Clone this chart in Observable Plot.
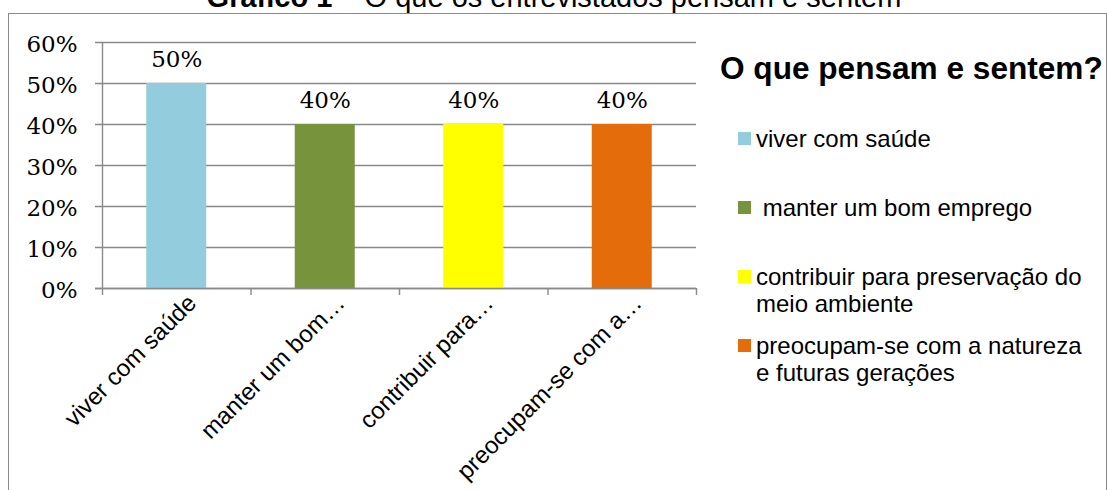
<!DOCTYPE html>
<html>
<head>
<meta charset="utf-8">
<script src="https://cdn.jsdelivr.net/npm/d3@7"></script>
<script src="https://cdn.jsdelivr.net/npm/@observablehq/plot@0.6"></script>
<style>
  body { margin: 0; background: #fff; }
  #wrap { position: relative; width: 1108px; height: 490px; overflow: hidden; background: #fff; }
  #title { position: absolute; left: 0; top: -17.5px; width: 1108px; text-align: center;
           font-family: "Liberation Sans", Arial, sans-serif; font-size: 29px; line-height: 1; color: #000; white-space: nowrap; }
  #frame { position: absolute; left: 8px; top: 13px; width: 1099px; height: 500px; border: 1px solid #8a8a8a; box-sizing: border-box; }
  #chart { position: absolute; left: 0; top: 0; }
  #legtitle { position: absolute; left: 720px; top: 53.3px; font-family: "Liberation Sans", Arial, sans-serif;
              font-weight: bold; font-size: 31.6px; line-height: 1; color: #000; white-space: nowrap; }
  .sw { position: absolute; width: 13px; height: 13px; }
  .lt { position: absolute; left: 756px; width: 338px; font-family: "Liberation Sans", Arial, sans-serif;
        font-size: 24px; line-height: 27px; color: #000; white-space: pre-wrap; }
</style>
</head>
<body>
<div id="wrap">
  <div id="title"><b>Gráfico 1</b> – O que os entrevistados pensam e sentem</div>
  <div id="frame"></div>
  <div id="chart"></div>
  <div id="legtitle">O que pensam e sentem?</div>
</div>
<script>
const categories = ["viver com saúde", "manter um bom emprego", "contribuir para preservação do meio ambiente", "preocupam-se com a natureza e futuras gerações"];
const tickLabels = ["viver com saúde", "manter um bom…", "contribuir para…", "preocupam-se com a…"];
const legendLabels = ["viver com saúde", " manter um bom emprego", "contribuir para preservação do meio ambiente", "preocupam-se com a natureza e futuras gerações"];
const values = [0.5, 0.4, 0.4, 0.4];
const colors = ["#93CDDD", "#77933C", "#FFFF00", "#E46C0A"];
const yTicks = [0, 0.1, 0.2, 0.3, 0.4, 0.5, 0.6];
const xBounds = [0, 1, 2, 3, 4];

const data = categories.map((c, i) => ({i, category: c, label: tickLabels[i], value: values[i], color: colors[i]}));
const pct = d3.format(".0%");
const serif = "DejaVu Serif, serif";
const sans = "Liberation Sans, Arial, sans-serif";
const grid = "#898989";

const chart = Plot.plot({
  width: 1108,
  height: 490,
  marginLeft: 102,
  marginRight: 412,
  marginTop: 42,
  marginBottom: 202,
  style: {background: "transparent", overflow: "visible"},
  x: {type: "linear", domain: [0, 4], axis: null},
  y: {domain: [0, 0.6], axis: null},
  color: {type: "identity"},
  marks: [
    Plot.ruleY(yTicks, {stroke: grid, strokeWidth: 1.4, insetLeft: -7}),
    Plot.rectY(data, {x1: "i", x2: d => d.i + 1, y: "value", fill: "color", insetLeft: 44.25, insetRight: 44.25}),
    Plot.ruleY([0], {stroke: grid, strokeWidth: 1.4, insetLeft: -7}),
    Plot.ruleX(xBounds, {x: d => d, y1: d => d === 0 ? 0.6 : 0, y2: d => 0, insetBottom: -7, stroke: grid, strokeWidth: 1.4}),
    Plot.axisY({ticks: yTicks, tickFormat: pct, tickSize: 0, tickPadding: 25, dy: 2, label: null, fontSize: 23, fontFamily: serif, fill: "#000"}),
    Plot.text(data, {x: d => d.i + 0.5, y: "value", text: d => pct(d.value), dy: -17, lineAnchor: "bottom", fontSize: 23, fontFamily: serif, fill: "#000"}),
    Plot.text(data, {x: d => d.i + 0.5, y: d => 0, text: "label", rotate: -45, textAnchor: "end", lineAnchor: "bottom", dx: 21, dy: 16, fontSize: 24, fontFamily: sans, fill: "#000"})
  ]
});
document.getElementById("chart").appendChild(chart);

const wrap = d3.select("#wrap");
legendLabels.forEach((lab, i) => {
  const top = 125.2 + i * 69;
  wrap.append("div").attr("class", "sw").style("left", "738px").style("top", (top + 7) + "px").style("background", colors[i]);
  wrap.append("div").attr("class", "lt").style("top", top + "px").text(lab);
});
</script>
</body>
</html>
